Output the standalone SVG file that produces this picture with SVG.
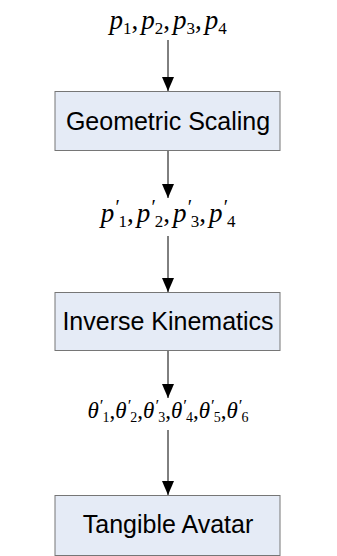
<svg xmlns="http://www.w3.org/2000/svg" width="337" height="556" viewBox="0 0 337 556">
<style>
.box{fill:#e5ebf6;stroke:#767676;stroke-width:1}
.lbl{font-family:"Liberation Sans",Arial,sans-serif;font-size:25px;fill:#000;text-anchor:middle}
.math{font-family:"Liberation Serif","Times New Roman",serif;fill:#000;text-anchor:middle}
.i{font-style:italic}
.s{font-size:17px}
.t{font-size:14px}
.pr{font-style:italic}
.conn{stroke:#000;stroke-width:1;fill:none;marker-end:url(#ah)}
</style>
<defs>
<marker id="ah" markerUnits="userSpaceOnUse" markerWidth="14" markerHeight="12" viewBox="0 0 14 12" refX="14" refY="6" orient="auto">
<path d="M0,0 L14,6 L0,12 Z" fill="#000"/>
</marker>
</defs>
<g id="connectors">
<line class="conn" x1="168" y1="40" x2="168" y2="91"/>
<line class="conn" x1="168" y1="151" x2="168" y2="198"/>
<line class="conn" x1="168" y1="236" x2="168" y2="292"/>
<line class="conn" x1="168" y1="351" x2="168" y2="398"/>
<line class="conn" x1="168" y1="430" x2="168" y2="495"/>
</g>
<g id="label-p">
<text class="math" x="168" y="29" font-size="27"><tspan class="i">p</tspan><tspan class="s" dy="5">1</tspan><tspan dy="-5">,</tspan><tspan class="i" dx="3">p</tspan><tspan class="s" dy="5">2</tspan><tspan dy="-5">,</tspan><tspan class="i" dx="3">p</tspan><tspan class="s" dy="5">3</tspan><tspan dy="-5">,</tspan><tspan class="i" dx="3">p</tspan><tspan class="s" dy="5">4</tspan></text>
</g>
<g id="geometric-scaling">
<rect class="box" x="55" y="91.5" width="225" height="59"/>
<text class="lbl" x="168" y="130">Geometric Scaling</text>
</g>
<g id="label-pprime">
<text class="math" x="168" y="222" font-size="27"><tspan class="i">p</tspan><tspan class="pr" font-size="20" dy="-8">′</tspan><tspan class="s" dy="13">1</tspan><tspan dy="-5">,</tspan><tspan class="i" dx="3">p</tspan><tspan class="pr" font-size="20" dy="-8">′</tspan><tspan class="s" dy="13">2</tspan><tspan dy="-5">,</tspan><tspan class="i" dx="3">p</tspan><tspan class="pr" font-size="20" dy="-8">′</tspan><tspan class="s" dy="13">3</tspan><tspan dy="-5">,</tspan><tspan class="i" dx="3">p</tspan><tspan class="pr" font-size="20" dy="-8">′</tspan><tspan class="s" dy="13">4</tspan></text>
</g>
<g id="inverse-kinematics">
<rect class="box" x="55" y="292.5" width="225" height="58"/>
<text class="lbl" x="168" y="330">Inverse Kinematics</text>
</g>
<g id="label-theta">
<text class="math" x="168" y="418" font-size="23"><tspan class="i">θ</tspan><tspan class="pr" font-size="17" dy="-7">′</tspan><tspan class="t" dy="11">1</tspan><tspan dy="-4">,</tspan><tspan class="i">θ</tspan><tspan class="pr" font-size="17" dy="-7">′</tspan><tspan class="t" dy="11">2</tspan><tspan dy="-4">,</tspan><tspan class="i">θ</tspan><tspan class="pr" font-size="17" dy="-7">′</tspan><tspan class="t" dy="11">3</tspan><tspan dy="-4">,</tspan><tspan class="i">θ</tspan><tspan class="pr" font-size="17" dy="-7">′</tspan><tspan class="t" dy="11">4</tspan><tspan dy="-4">,</tspan><tspan class="i">θ</tspan><tspan class="pr" font-size="17" dy="-7">′</tspan><tspan class="t" dy="11">5</tspan><tspan dy="-4">,</tspan><tspan class="i">θ</tspan><tspan class="pr" font-size="17" dy="-7">′</tspan><tspan class="t" dy="11">6</tspan></text>
</g>
<g id="tangible-avatar">
<rect class="box" x="55" y="495.5" width="225" height="60"/>
<text class="lbl" x="168" y="533">Tangible Avatar</text>
</g>
</svg>
